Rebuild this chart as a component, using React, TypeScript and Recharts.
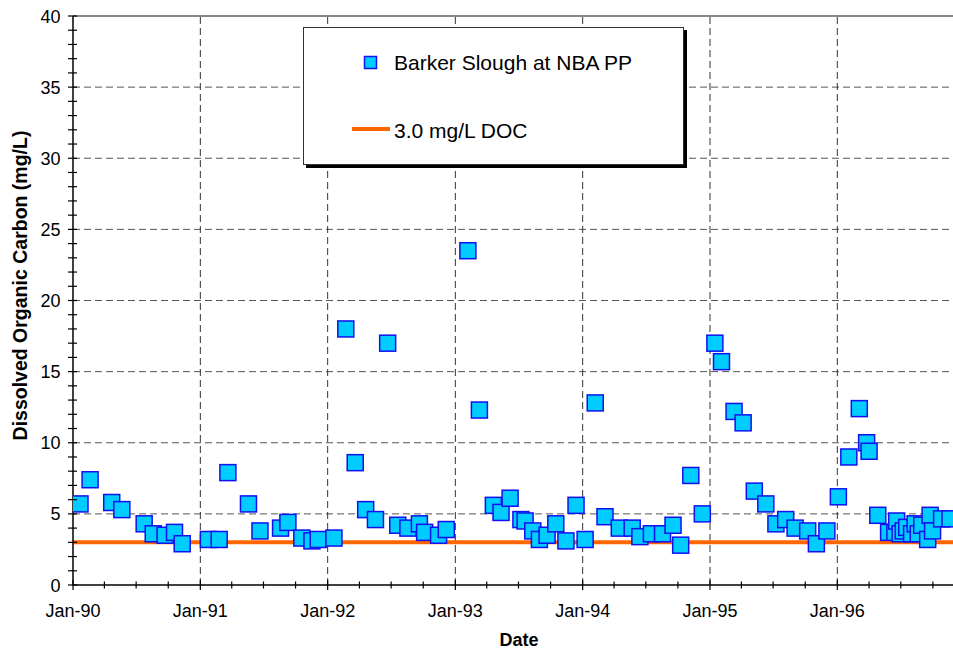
import { ComposedChart, Scatter, XAxis, YAxis, ReferenceLine, Legend } from "recharts";

// DOC samples (Barker Slough, 1990-1996)
const sampleDates = [
  "1990-01-21", "1990-02-19", "1990-04-22", "1990-05-21", "1990-07-24", "1990-08-19",
  "1990-09-22", "1990-10-19", "1990-11-10", "1991-01-24", "1991-02-24", "1991-03-21",
  "1991-05-19", "1991-06-21", "1991-08-19", "1991-09-09", "1991-10-19", "1991-11-17",
  "1991-12-05", "1992-01-19", "1992-02-22", "1992-03-20", "1992-04-19", "1992-05-17",
  "1992-06-21", "1992-07-20", "1992-08-18", "1992-09-20", "1992-10-05", "1992-11-14",
  "1992-12-06", "1993-02-06", "1993-03-11", "1993-04-20", "1993-05-12", "1993-06-07",
  "1993-07-08", "1993-07-20", "1993-08-11", "1993-08-30", "1993-09-21", "1993-10-16",
  "1993-11-14", "1993-12-13", "1994-01-08", "1994-02-06", "1994-03-06", "1994-04-16",
  "1994-05-23", "1994-06-14", "1994-07-17", "1994-08-18", "1994-09-17", "1994-10-09",
  "1994-11-07", "1994-12-10", "1995-01-15", "1995-02-03", "1995-03-11", "1995-04-06",
  "1995-05-08", "1995-06-10", "1995-07-09", "1995-08-06", "1995-09-02", "1995-10-08",
  "1995-11-02", "1995-12-02", "1996-01-04", "1996-02-03", "1996-03-04", "1996-03-25",
  "1996-04-01", "1996-04-26", "1996-05-27", "1996-06-14", "1996-06-19", "1996-06-29",
  "1996-07-08", "1996-07-18", "1996-08-01", "1996-08-11", "1996-08-20", "1996-08-30",
  "1996-09-16", "1996-09-23", "1996-09-30", "1996-10-26", "1996-11-19",
];

const docValues = [
  5.7, 7.4, 5.8, 5.3, 4.3, 3.6,
  3.5, 3.7, 2.9, 3.2, 3.2, 7.9,
  5.7, 3.8, 4.0, 4.4, 3.3, 3.1,
  3.2, 3.3, 18.0, 8.6, 5.3, 4.6,
  17.0, 4.2, 4.0, 4.3, 3.7, 3.5,
  3.9, 23.5, 12.3, 5.6, 5.1, 6.1,
  4.6, 4.5, 3.8, 3.2, 3.5, 4.3,
  3.1, 5.6, 3.2, 12.8, 4.8, 4.0,
  4.0, 3.4, 3.6, 3.6, 4.2, 2.8,
  7.7, 5.0, 17.0, 15.7, 12.2, 11.4,
  6.6, 5.7, 4.3, 4.6, 4.0, 3.8,
  2.9, 3.8, 6.2, 9.0, 12.4, 10.0,
  9.4, 4.9, 3.7, 3.7, 4.5, 3.6,
  3.8, 4.05, 3.6, 4.3, 3.6, 4.2,
  3.2, 4.9, 3.8, 4.65, 4.65,
];

const DOC_TARGET = 3.0;
const SERIES_NAME = "Barker Slough at NBA PP";
const TARGET_NAME = "3.0 mg/L DOC";
const Y_TITLE = "Dissolved Organic Carbon (mg/L)";

const years = [1990, 1991, 1992, 1993, 1994, 1995, 1996, 1997];
const labelledYears = [1990, 1991, 1992, 1993, 1994, 1995, 1996];
const quarterMonths = [0, 3, 6, 9];
const yGridValues = [5, 10, 15, 20, 25, 30, 35];
const yTicks = Array.from({ length: 41 }, (_, i) => i);

const FONT = "Arial, 'Liberation Sans', sans-serif";

const data = sampleDates.map((d, i) => ({
  date: Date.parse(d + "T00:00:00Z"),
  doc: docValues[i],
}));

const xStart = Date.UTC(years[0], 0, 1);
const xEnd = Date.UTC(years[years.length - 1], 0, 1);
const xTicks = years.flatMap((y) =>
  y === years[years.length - 1] ? [Date.UTC(y, 0, 1)] : quarterMonths.map((m) => Date.UTC(y, m, 1))
);
const yearLines = years.slice(1).map((y) => Date.UTC(y, 0, 1));

function DateTick(props: any) {
  const { x, y, payload } = props;
  const d = new Date(payload.value);
  const isYear = d.getUTCMonth() === 0;
  const showLabel = isYear && labelledYears.includes(d.getUTCFullYear());
  const half = isYear ? 5 : 3.5;
  return (
    <g>
      <line x1={x} x2={x} y1={y - half} y2={y + half} stroke="#000" strokeWidth={1.2} />
      {showLabel && (
        <text x={x} y={y + 32} textAnchor="middle" fontSize={18} fontFamily={FONT} fill="#000">
          {"Jan-" + String(d.getUTCFullYear()).slice(2)}
        </text>
      )}
    </g>
  );
}

function DocTick(props: any) {
  const { x, y, payload } = props;
  return (
    <g>
      <line x1={x - 5} x2={x + 4} y1={y} y2={y} stroke="#000" strokeWidth={1.2} />
      {payload.value % 5 === 0 && (
        <text x={x - 12.5} y={y + 6.5} textAnchor="end" fontSize={18} fontFamily={FONT} fill="#000">
          {payload.value}
        </text>
      )}
    </g>
  );
}

function YTitle(props: any) {
  const { viewBox } = props;
  const cx = viewBox.x + 20;
  const cy = viewBox.y + viewBox.height / 2 - 15;
  return (
    <text
      x={cx}
      y={cy}
      transform={`rotate(-90, ${cx}, ${cy})`}
      textAnchor="middle"
      dominantBaseline="central"
      fontSize={19.5}
      fontWeight="bold"
      fontFamily={FONT}
      fill="#000"
    >
      {Y_TITLE}
    </text>
  );
}

function SquareMarker(props: any) {
  const { cx, cy } = props;
  if (cx == null || cy == null) return null;
  return <rect x={cx - 8} y={cy - 8} width={16} height={16} fill="#00CCFF" stroke="#1010F0" strokeWidth={1.5} />;
}

function LegendBox() {
  return (
    <div
      style={{
        width: 381,
        height: 138,
        boxSizing: "border-box",
        background: "#fff",
        border: "1px solid #333",
        boxShadow: "3px 3px 0 #000",
        fontFamily: FONT,
      }}
    >
      <svg width={379} height={136} style={{ display: "block" }}>
        <rect x={60.5} y={28.5} width={12} height={12} fill="#00CCFF" stroke="#1010F0" strokeWidth={1.5} />
        <text x={90} y={42} fontSize={21} fill="#000" fontFamily={FONT}>
          {SERIES_NAME}
        </text>
        <line x1={48} x2={86} y1={101} y2={101} stroke="#FF6600" strokeWidth={4} />
        <text x={90} y={109.5} fontSize={21} fill="#000" fontFamily={FONT}>
          {TARGET_NAME}
        </text>
      </svg>
    </div>
  );
}

export default function App() {
  return (
    <div style={{ position: "absolute", left: 0, top: 0, width: 953, height: 649, overflow: "hidden", background: "#fff" }}>
      <ComposedChart width={965} height={649} data={data} margin={{ top: 16, right: 0, bottom: 0, left: 0 }}>
        <XAxis
          dataKey="date"
          type="number"
          domain={[xStart, xEnd]}
          ticks={xTicks}
          interval={0}
          tickSize={0}
          tickMargin={0}
          tick={DateTick}
          height={64}
          axisLine={{ stroke: "#000", strokeWidth: 1.5 }}
          allowDataOverflow
          label={{ value: "Date", position: "insideBottom", offset: 3, fontSize: 18, fontWeight: "bold", fontFamily: FONT, fill: "#000" }}
        />
        <YAxis
          type="number"
          domain={[0, 40]}
          ticks={yTicks}
          interval={0}
          tickSize={0}
          tickMargin={0}
          tick={DocTick}
          width={73}
          axisLine={{ stroke: "#000", strokeWidth: 1.5 }}
          allowDataOverflow
          label={{ content: YTitle }}
        />
        {yGridValues.map((v) => (
          <ReferenceLine key={"h" + v} y={v} stroke="#555" strokeDasharray="7 4" strokeWidth={1} />
        ))}
        <ReferenceLine y={40} stroke="#111" strokeWidth={1.2} />
        {yearLines.map((t) => (
          <ReferenceLine key={"v" + t} x={t} stroke="#333" strokeDasharray="7 4" strokeWidth={1} />
        ))}
        <ReferenceLine y={DOC_TARGET} stroke="#FF6600" strokeWidth={4} />
        <Scatter dataKey="doc" name={SERIES_NAME} shape={SquareMarker} isAnimationActive={false} />
        <Legend
          layout="vertical"
          align="center"
          verticalAlign="middle"
          content={LegendBox}
          wrapperStyle={{ left: 303, top: 27, width: 381, height: 138 }}
        />
      </ComposedChart>
    </div>
  );
}
